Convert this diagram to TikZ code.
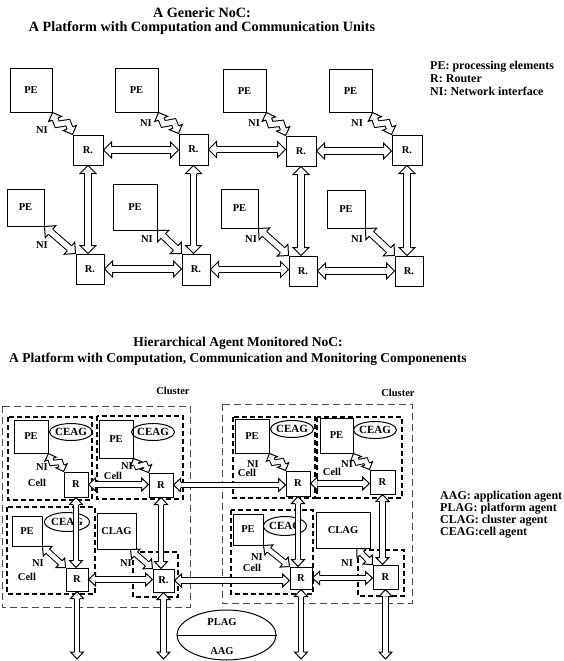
\documentclass[tikz,border=0pt]{standalone}
\usepackage{fontspec}
\setmainfont{Liberation Serif}
\usetikzlibrary{calc,shapes.geometric}

\newcommand\arrset[5]{\def\arrHL{#1}\def\arrHW{#2}\def\arrSW{#3}\def\arrDD{#4}\def\arrZ{#5}}
\newcommand\arrhead[2]{%
  \fill[white] ($(#1)!\arrHL!(#2)!\arrHW!90:(#1)$) -- (#1) -- ($(#1)!\arrHL!(#2)!\arrHW!-90:(#1)$) -- cycle;
  \draw[arrline] ($(#1)!\arrHL!(#2)!\arrSW!90:(#1)$) -- ($(#1)!\arrHL!(#2)!\arrHW!90:(#1)$) -- (#1) -- ($(#1)!\arrHL!(#2)!\arrHW!-90:(#1)$) -- ($(#1)!\arrHL!(#2)!\arrSW!-90:(#1)$);}
\newcommand\fatarr[2]{%
  \coordinate (fa1) at (#1); \coordinate (fa2) at (#2);
  \draw[dbl] ($(fa1)!\arrHL!(fa2)$) -- ($(fa2)!\arrHL!(fa1)$);
  \arrhead{fa1}{fa2}\arrhead{fa2}{fa1}}
\newcommand\boltarr[2]{%
  \coordinate (ba) at (#1); \coordinate (bb) at (#2);
  \coordinate (bm1) at ($(ba)!0.4!(bb)!\arrZ!-90:(bb)$);
  \coordinate (bm2) at ($(ba)!0.6!(bb)!\arrZ!90:(bb)$);
  \draw[dbl] ($(ba)!\arrHL!(bm1)$) -- (bm1) -- (bm2) -- ($(bb)!\arrHL!(bm2)$);
  \arrhead{ba}{bm1}\arrhead{bb}{bm2}}

\tikzset{
  arrline/.style={line width=1pt, line join=miter},
  dbl/.style={line width=1pt, double=white, double distance=\arrDD, line join=miter},
  box/.style={draw, line width=1pt, inner sep=0pt, font=\fontsize{10.5}{11}\selectfont\bfseries},
  bbox/.style={draw, line width=1pt, inner sep=0pt, font=\fontsize{10.5}{11}\selectfont\bfseries},
  agent/.style={draw, ellipse, line width=1pt, inner xsep=-4pt, inner ysep=-1pt, font=\fontsize{11}{12}\selectfont\bfseries},
  lab/.style={inner sep=0pt, font=\fontsize{10.5}{11}\selectfont\bfseries},
  blab/.style={inner sep=0pt, font=\fontsize{10.5}{11}\selectfont\bfseries},
  title/.style={inner sep=0pt, font=\fontsize{13.5}{16}\selectfont\bfseries},
  legend/.style={inner sep=0pt, anchor=west, font=\fontsize{12}{12}\selectfont\bfseries},
  cellbox/.style={line width=1.7pt, dash pattern=on 5pt off 3pt},
  clusterbox/.style={line width=1pt, black!70, dash pattern=on 7pt off 4pt},
}

\begin{document}
\begin{tikzpicture}[x=1pt,y=-1pt]
\useasboundingbox (0,0) rectangle (563,661);

% ---------------- top diagram ----------------
\node[title, font=\fontsize{14.2}{16}\selectfont\bfseries] (t1) at (202,13) {A Generic NoC:};
\node[title, font=\fontsize{14.2}{16}\selectfont\bfseries] (t2) at (202,28) {A Platform with Computation and Communication Units};

\node[legend] (lg1) at (430,67) {PE: processing elements};
\node[legend] (lg2) at (430,79) {R: Router};
\node[legend] (lg3) at (430,91) {NI: Network interface};

\node[box, minimum width=42pt, minimum height=43pt] (pe1) at (31,90.5) {PE};
\node[box, minimum width=43pt, minimum height=43pt] (pe2) at (136.5,90.5) {PE};
\node[box, minimum width=43pt, minimum height=42pt] (pe3) at (244.5,91) {PE};
\node[box, minimum width=43pt, minimum height=42pt] (pe4) at (350.5,91) {PE};

\node[box, minimum width=30pt, minimum height=30pt] (r1) at (88,150) {R.};
\node[box, minimum width=29pt, minimum height=31pt] (r2) at (193.5,149.5) {R.};
\node[box, minimum width=30pt, minimum height=30pt] (r3) at (301,151) {R.};
\node[box, minimum width=30pt, minimum height=30pt] (r4) at (407,150) {R.};

\node[box, minimum width=37pt, minimum height=37pt] (pe5) at (25.5,207.5) {PE};
\node[box, minimum width=44pt, minimum height=46pt] (pe6) at (135,207) {PE};
\node[box, minimum width=37pt, minimum height=39pt] (pe7) at (239.5,208.5) {PE};
\node[box, minimum width=38pt, minimum height=38pt] (pe8) at (346,209) {PE};

\node[box, minimum width=28pt, minimum height=30pt] (r5) at (90,269) {R.};
\node[box, minimum width=28pt, minimum height=31pt] (r6) at (196,269.5) {R.};
\node[box, minimum width=28pt, minimum height=30pt] (r7) at (303,271) {R.};
\node[box, minimum width=28pt, minimum height=30pt] (r8) at (409,271) {R.};

\node[lab] (ni1) at (42,130) {NI};
\node[lab] (ni2) at (146,123) {NI};
\node[lab] (ni3) at (254,123) {NI};
\node[lab] (ni4) at (357,123) {NI};
\node[lab] (ni5) at (42,245) {NI};
\node[lab] (ni6) at (147,239) {NI};
\node[lab] (ni7) at (251,239) {NI};
\node[lab] (ni8) at (357,239) {NI};

\arrset{8pt}{8pt}{3.2pt}{5.4pt}{0pt}
\fatarr{r1.east}{r1.east -| r2.west}
\fatarr{r2.east}{r2.east -| r3.west}
\fatarr{r3.east}{r3.east -| r4.west}
\fatarr{r5.east}{r5.east -| r6.west}
\fatarr{r6.east}{r6.east -| r7.west}
\fatarr{r7.east}{r7.east -| r8.west}
\fatarr{r1.south}{r1.south |- r5.north}
\fatarr{r2.south}{r2.south |- r6.north}
\fatarr{r3.south}{r3.south |- r7.north}
\fatarr{r4.south}{r4.south |- r8.north}
\fatarr{pe5.south east}{r5.north west}
\fatarr{pe6.south east}{r6.north west}
\fatarr{pe7.south east}{r7.north west}
\fatarr{pe8.south east}{r8.north west}

\arrset{7pt}{7pt}{3pt}{5pt}{4.5pt}
\boltarr{pe1.south east}{r1.north west}
\boltarr{pe2.south east}{r2.north west}
\boltarr{pe3.south east}{r3.north west}
\boltarr{pe4.south east}{r4.north west}

% ---------------- bottom diagram ----------------
\node[title] (t3) at (238,343) {Hierarchical Agent Monitored NoC:};
\node[title] (t4) at (238,359) {A Platform with Computation, Communication and Monitoring Componenents};

\node[legend] (lg4) at (440,497) {AAG: application agent};
\node[legend] (lg5) at (440,509) {PLAG: platform agent};
\node[legend] (lg6) at (440,521) {CLAG: cluster agent};
\node[legend] (lg7) at (440,533) {CEAG:cell agent};

\node[blab] (cl1) at (173,391) {Cluster};
\node[blab] (cl2) at (398,393) {Cluster};

\draw[clusterbox] (2,406) rectangle (190,607);
\draw[clusterbox] (222,404) rectangle (412,603);

\draw[cellbox] (8,417) rectangle (92,500);
\draw[cellbox] (97,416) rectangle (183,499);
\draw[cellbox] (233,417) rectangle (315,498);
\draw[cellbox] (317,417) rectangle (402,498);
\draw[cellbox] (7,507) rectangle (95,594);
\draw[cellbox] (133,552) rectangle (178,597);
\draw[cellbox] (231,510) rectangle (313,594);
\draw[cellbox] (358,550) rectangle (404,596);

\node[bbox, minimum width=34pt, minimum height=33pt] (bpe1) at (31,436.5) {PE};
\node[bbox, minimum width=34pt, minimum height=38pt] (bpe2) at (116,439) {PE};
\node[bbox, minimum width=34pt, minimum height=34pt] (bpe3) at (252,436) {PE};
\node[bbox, minimum width=33pt, minimum height=35pt] (bpe4) at (336.5,435.5) {PE};
\node[bbox, minimum width=30pt, minimum height=30pt] (bpe5) at (27,531) {PE};
\node[bbox, minimum width=30pt, minimum height=31pt] (bpe7) at (248,529.5) {PE};

\node[agent, minimum width=43pt, minimum height=17pt] (ce1) at (71,432) {CEAG};
\node[agent, minimum width=43pt, minimum height=17pt] (ce2) at (153,432) {CEAG};
\node[agent, minimum width=43pt, minimum height=17pt] (ce3) at (292,429) {CEAG};
\node[agent, minimum width=43pt, minimum height=17pt] (ce4) at (375,430) {CEAG};
\node[agent, minimum width=45pt, minimum height=19pt] (ce5) at (67,522) {CEAG};
\node[agent, minimum width=43pt, minimum height=19pt] (ce7) at (285,526) {CEAG};

\node[bbox, minimum width=39pt, minimum height=36pt] (clag1) at (116.5,531) {CLAG};
\node[bbox, minimum width=54pt, minimum height=36pt] (clag2) at (343,530) {CLAG};

\node[bbox, minimum width=24pt, minimum height=25pt] (br1) at (76,484.5) {R};
\node[bbox, minimum width=24pt, minimum height=24pt] (br2) at (161,485) {R};
\node[bbox, minimum width=24pt, minimum height=25pt] (br3) at (298,483.5) {R};
\node[bbox, minimum width=25pt, minimum height=24pt] (br4) at (382.5,482) {R};
\node[bbox, minimum width=22pt, minimum height=23pt] (br5) at (77,579.5) {R};
\node[bbox, minimum width=21pt, minimum height=23pt] (br6) at (163.5,580.5) {R.};
\node[bbox, minimum width=22pt, minimum height=22pt] (br7) at (301,578) {R};
\node[bbox, minimum width=25pt, minimum height=24pt] (br8) at (385.5,577) {R};

\node[blab] (c1) at (37,483) {Cell};
\node[blab] (c2) at (113,476) {Cell};
\node[blab] (c3) at (247,473) {Cell};
\node[blab] (c4) at (332,472) {Cell};
\node[blab] (c5) at (27,577) {Cell};
\node[blab] (c7) at (252,568) {Cell};

\node[blab] (bni1) at (42,467) {NI};
\node[blab] (bni2) at (127,466) {NI};
\node[blab] (bni3) at (253,464) {NI};
\node[blab] (bni4) at (347,464) {NI};
\node[blab] (bni5) at (38,563) {NI};
\node[blab] (bni6) at (126,563) {NI};
\node[blab] (bni7) at (257,557) {NI};
\node[blab] (bni8) at (347,563) {NI};

\node[draw, ellipse, line width=1pt, minimum width=99pt, minimum height=50pt] (agell) at (226.5,635) {};
\draw[line width=1pt] (agell.west) -- (agell.east);
\node[blab] (plag) at (222,622) {PLAG};
\node[blab] (aag) at (222,651) {AAG};

\coordinate (botline) at (0,659);
\coordinate (cn1) at ($(clag1.south east)!0.15!(clag1.south west)$);
\coordinate (cn2) at ($(clag2.south east)!0.25!(clag2.south west)$);

\arrset{7pt}{6.5pt}{2.7pt}{4.4pt}{0pt}
\fatarr{br1.east}{br1.east -| br2.west}
\fatarr{br2.east}{br2.east -| br3.west}
\fatarr{br3.east}{br3.east -| br4.west}
\fatarr{br5.east}{br5.east -| br6.west}
\fatarr{br6.east}{br6.east -| br7.west}
\fatarr{br7.east}{br7.east -| br8.west}
\fatarr{br1.south}{br1.south |- br5.north}
\fatarr{br2.south}{br2.south |- br6.north}
\fatarr{br3.south}{br3.south |- br7.north}
\fatarr{br4.south}{br4.south |- br8.north}
\fatarr{br5.south}{br5.south |- botline}
\fatarr{br6.south}{br6.south |- botline}
\fatarr{br7.south}{br7.south |- botline}
\fatarr{br8.south}{br8.south |- botline}
\fatarr{bpe5.south east}{br5.north west}
\fatarr{cn1}{br6.north west}
\fatarr{bpe7.south east}{br7.north west}
\fatarr{cn2}{br8.north west}

\arrset{6pt}{6pt}{2.6pt}{4.2pt}{3.5pt}
\boltarr{bpe1.south east}{br1.north west}
\boltarr{bpe2.south east}{br2.north west}
\boltarr{bpe3.south east}{br3.north west}
\boltarr{bpe4.south east}{br4.north west}
\end{tikzpicture}
\end{document}
